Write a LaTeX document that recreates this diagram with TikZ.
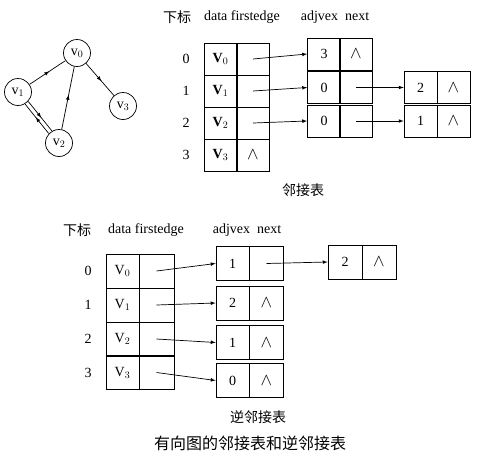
\documentclass[tikz,border=0pt]{standalone}
\usepackage{fontspec}
\setmainfont{Liberation Serif}
\newfontfamily\cjk{Noto Sans CJK SC}
\usetikzlibrary{decorations.markings}
\tikzset{
	vertexstyle/.style={circle, draw=black, fill=white, minimum size=27, inner sep=0pt},
	cellstyle/.style={rectangle, draw=black, minimum width=33, minimum height=32, inner sep=0pt},
	cellbstyle/.style={rectangle, draw=black, minimum width=34, minimum height=34, inner sep=0pt},
	midarrow/.style={postaction={decorate}, decoration={markings, mark=at position 0.55 with {\arrow{latex}}}},
	plainstyle/.style={inner sep=0pt}
}
\newcommand{\nilmark}{{\fontsize{17}{17}\selectfont$\wedge$}}

\begin{document}
\begin{tikzpicture}[x=1pt, y=-1pt, line width=0.7pt, font=\fontsize{14}{16}\selectfont]
	\useasboundingbox (0,0) rectangle (477,466);
	% graph
	\node[vertexstyle] (v0) at (77,53) {v$_0$};
	\node[vertexstyle] (v1) at (18,92) {v$_1$};
	\node[vertexstyle] (v3) at (123,106) {v$_3$};
	\node[vertexstyle] (v2) at (59,143) {v$_2$};
	\draw[midarrow] (v1)--(v0);
	\draw[midarrow] (v0)--(v3);
	\draw[midarrow] (v2)--(v0);
	\draw[midarrow, transform canvas={shift={(1.6pt,1.3pt)}}] (v1)--(v2);
	\draw[midarrow, transform canvas={shift={(-1.6pt,-1.3pt)}}] (v2)--(v1);

	% adjacency list
	\node[plainstyle] (idx1) at (177,17) {\cjk 下标};
	\node[plainstyle] (df1) at (242,17) {data firstedge};
	\node[plainstyle] (an1) at (335,17) {adjvex\ \ next};
	\node[plainstyle] (i10) at (186,59) {0};
	\node[plainstyle] (i11) at (186,91) {1};
	\node[plainstyle] (i12) at (186,123) {2};
	\node[plainstyle] (i13) at (186,155) {3};
	\node[cellstyle] (d10) at (220.5,59) {\textbf{V}$_0$};
	\node[cellstyle] (f10) at (253,59) {};
	\node[cellstyle] (d11) at (220.5,91) {\textbf{V}$_1$};
	\node[cellstyle] (f11) at (253,91) {};
	\node[cellstyle] (d12) at (220.5,123) {\textbf{V}$_2$};
	\node[cellstyle] (f12) at (253,123) {};
	\node[cellstyle] (d13) at (220.5,155) {\textbf{V}$_3$};
	\node[cellstyle] (f13) at (253,155) {\nilmark};
	\node[cellstyle] (a10) at (324,54) {3};
	\node[cellstyle] (n10) at (356,54) {\nilmark};
	\node[cellstyle] (a11) at (324,87.5) {0};
	\node[cellstyle] (n11) at (356,87.5) {};
	\node[cellstyle] (a12) at (324,121) {0};
	\node[cellstyle] (n12) at (356,121) {};
	\node[cellstyle] (b11) at (420.5,87.5) {2};
	\node[cellstyle] (m11) at (453.5,87.5) {\nilmark};
	\node[cellstyle] (b12) at (420.5,121) {1};
	\node[cellstyle] (m12) at (453.5,121) {\nilmark};
	\draw[-latex] (f10.center)--(a10.west);
	\draw[-latex] (f11.center)--(a11.west);
	\draw[-latex] (f12.center)--(a12.west);
	\draw[-latex] (n11.center)--(b11.west);
	\draw[-latex] (n12.center)--(b12.west);
	\node[plainstyle] (cap1) at (303,190) {\cjk 邻接表};

	% inverse adjacency list
	\node[plainstyle] (idx2) at (77,230) {\cjk 下标};
	\node[plainstyle] (df2) at (146,230) {data firstedge};
	\node[plainstyle] (an2) at (247,230) {adjvex\ \ next};
	\node[plainstyle] (i20) at (88,271) {0};
	\node[plainstyle] (i21) at (88,305) {1};
	\node[plainstyle] (i22) at (88,339) {2};
	\node[plainstyle] (i23) at (88,372.5) {3};
	\node[cellbstyle, minimum width=33] (d20) at (122.5,271) {V$_0$};
	\node[cellbstyle, minimum width=35] (f20) at (156.5,271) {};
	\node[cellbstyle, minimum width=33] (d21) at (122.5,305) {V$_1$};
	\node[cellbstyle, minimum width=35] (f21) at (156.5,305) {};
	\node[cellbstyle, minimum width=33] (d22) at (122.5,339) {V$_2$};
	\node[cellbstyle, minimum width=35] (f22) at (156.5,339) {};
	\node[cellbstyle, minimum width=33] (d23) at (122.5,372.5) {V$_3$};
	\node[cellbstyle, minimum width=35] (f23) at (156.5,372.5) {};
	\node[cellbstyle, minimum width=33] (a20) at (232.5,263.5) {1};
	\node[cellbstyle] (n20) at (266.5,263.5) {};
	\node[cellbstyle, minimum width=33] (a21) at (232.5,303) {2};
	\node[cellbstyle] (n21) at (266.5,303) {\nilmark};
	\node[cellbstyle, minimum width=33] (a22) at (232.5,342.5) {1};
	\node[cellbstyle] (n22) at (266.5,342.5) {\nilmark};
	\node[cellbstyle, minimum width=33] (a23) at (232.5,380.5) {0};
	\node[cellbstyle] (n23) at (266.5,380.5) {\nilmark};
	\node[cellbstyle] (c20) at (345,262) {2};
	\node[cellbstyle] (p20) at (379,262) {\nilmark};
	\draw[-latex] (f20.center)--(a20.west);
	\draw[-latex] (f21.center)--(a21.west);
	\draw[-latex] (f22.center)--(a22.west);
	\draw[-latex] (f23.center)--(a23.west);
	\draw[-latex] (n20.center)--(c20.west);
	\node[plainstyle] (cap2) at (258,417) {\cjk 逆邻接表};
	\node[plainstyle] (title) at (250,443) {\cjk\fontsize{16}{18}\selectfont 有向图的邻接表和逆邻接表};
\end{tikzpicture}
\end{document}
